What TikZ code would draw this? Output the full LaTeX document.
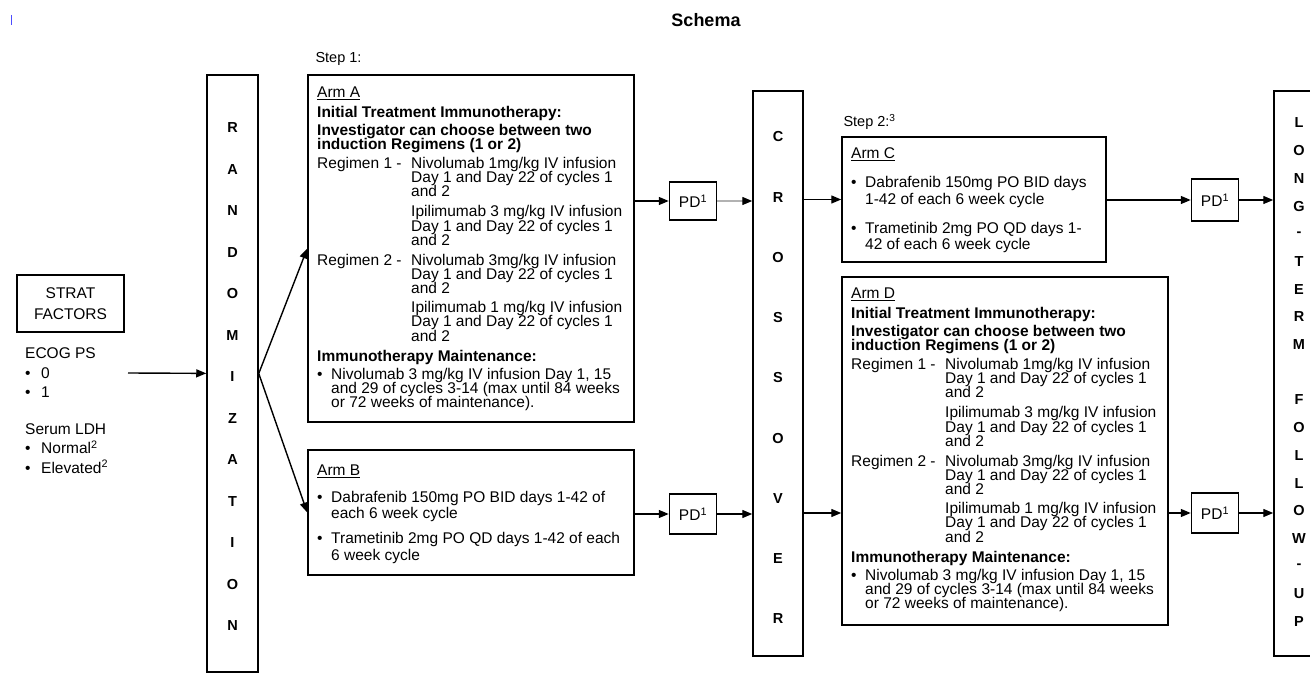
\documentclass[tikz,border=0pt]{standalone}
\usepackage{fontspec}
\setmainfont{Liberation Sans}
\usetikzlibrary{arrows.meta}
\tikzset {>={Triangle[length=10pt,width=8pt]}}

\newcommand{\armfont}{\fontsize{15.5}{14.2}\selectfont\lineskiplimit=-10pt}
\newcommand{\listfont}{\fontsize{15.5}{16.5}\selectfont\lineskiplimit=-10pt}
\newcommand{\dotitem}{\makebox[14pt][l]{\textbullet}}
\newcommand{\hang}{\hspace*{14pt}}
\newcommand{\ind}{\hspace*{94pt}}
\newcommand{\regimen}[1]{\makebox[94pt][l]{Regimen #1 -}}

% same treatment text in Arm A and Arm D
\newcommand{\immunoarm}[1]{%
\underline{Arm #1}\\[5.8pt]
\textbf{Initial Treatment Immunotherapy:}\\[3.8pt]
\textbf{Investigator can choose between two}\\
\textbf{induction Regimens (1 or 2)}\\[4.8pt]
\regimen{1}Nivolumab 1mg/kg IV infusion\\
\ind Day 1 and Day 22 of cycles 1\\
\ind and 2\\[5.8pt]
\ind Ipilimumab 3 mg/kg IV infusion\\
\ind Day 1 and Day 22 of cycles 1\\
\ind and 2\\[5.8pt]
\regimen{2}Nivolumab 3mg/kg IV infusion\\
\ind Day 1 and Day 22 of cycles 1\\
\ind and 2\\[4.8pt]
\ind Ipilimumab 1 mg/kg IV infusion\\
\ind Day 1 and Day 22 of cycles 1\\
\ind and 2\\[5.8pt]
\textbf{Immunotherapy Maintenance:}\\[3.8pt]
\dotitem Nivolumab 3 mg/kg IV infusion Day 1, 15\\
\hang and 29 of cycles 3-14 (max until 84 weeks\\
\hang or 72 weeks of maintenance).}

\begin{document}
\begin{tikzpicture}[x=1pt,y=-1pt,
  box/.style={draw,line width=1.5pt,inner sep=0pt},
  pd/.style={box,minimum width=47pt,font=\fontsize{15.5}{15.5}\selectfont},
  txt/.style={align=left,anchor=north west,inner sep=0pt,font=\armfont},
  letter/.style={font=\bfseries\fontsize{14.5}{14.5}\selectfont},
  link/.style={->,line width=1.4pt}]
\useasboundingbox (0,0) rectangle (1310,700);

\node[font=\bfseries\fontsize{18}{18}\selectfont] (title) at (706,20) {Schema};
\draw[blue!70, line width=1pt] (11,15) -- (11,25);

% stratification
\node[box, minimum width=107pt, minimum height=57pt, align=center,
  font=\fontsize{15.5}{21}\selectfont] (strat) at (70.5,303.5) {STRAT\\FACTORS};
\node[txt, font=\fontsize{15.5}{19.5}\selectfont] (ecog) at (25,347.5)
  {ECOG PS\\ \makebox[16pt][l]{\textbullet}0\\ \makebox[16pt][l]{\textbullet}1\\[17pt]
   Serum LDH\\ \makebox[16pt][l]{\textbullet}Normal\textsuperscript{2}\\
   \makebox[16pt][l]{\textbullet}Elevated\textsuperscript{2}};
\coordinate (ecogout) at (128,373);

% tall boxes
\node[box, minimum width=51pt, minimum height=597pt] (rand) at (232.5,373.5) {};
\foreach \c [count=\k from 0] in {R,A,N,D,O,M,I,Z,A,T,I,O,N}
  \node[letter] (rand\k) at (232.5,128+41.5*\k) {\c};
\node[box, minimum width=50pt, minimum height=565pt] (cross) at (778,373.5) {};
\foreach \c [count=\k from 0] in {C,R,O,S,S,O,V,E,R}
  \node[letter] (cross\k) at (778,137+60.25*\k) {\c};
\node[box, minimum width=50pt, minimum height=565pt] (ltfu) at (1299,373.5) {};
\foreach \c [count=\k from 0] in {L,O,N,G,-,T,E,R,M,{},F,O,L,L,O,W,-,U,P}
  \node[letter] (ltfu\k) at (1299,123+27.7*\k) {\c};

% step 1
\node[anchor=base west, font=\fontsize{14.5}{14.5}\selectfont] (stepone) at (312,63) {Step 1:};
\node[box, minimum width=326pt, minimum height=347pt] (armA) at (471,248.5) {};
\node[txt] (armAtxt) at (317,86.5) {\immunoarm{A}};
\node[box, minimum width=326pt, minimum height=125pt] (armB) at (471,512.5) {};
\node[txt, font=\listfont] (armBtxt) at (317,464.5)
  {\underline{Arm B}\\[10.5pt]
   \dotitem Dabrafenib 150mg PO BID days 1-42 of\\
   \hang each 6 week cycle\\[8.5pt]
   \dotitem Trametinib 2mg PO QD days 1-42 of each\\
   \hang 6 week cycle};
\node[pd, minimum height=38pt] (pdA) at (693,201) {PD\textsuperscript{1}};
\node[pd, minimum height=40pt] (pdB) at (693,514) {PD\textsuperscript{1}};

% step 2
\node[anchor=base west, font=\fontsize{14.5}{14.5}\selectfont] (steptwo) at (840,127) {Step 2:\textsuperscript{3}};
\node[box, minimum width=264pt, minimum height=125pt] (armC) at (974,199.5) {};
\node[txt, font=\listfont] (armCtxt) at (851,147.5)
  {\underline{Arm C}\\[12.5pt]
   \dotitem Dabrafenib 150mg PO BID days\\
   \hang 1-42 of each 6 week cycle\\[12.5pt]
   \dotitem Trametinib 2mg PO QD days 1-\\
   \hang 42 of each 6 week cycle};
\node[box, minimum width=326pt, minimum height=348pt] (armD) at (1005,451) {};
\node[txt] (armDtxt) at (851,287.5) {\immunoarm{D}};
\node[pd, minimum height=42pt] (pdC) at (1215,200) {PD\textsuperscript{1}};
\node[pd, minimum height=40pt] (pdD) at (1215,513) {PD\textsuperscript{1}};

% connectors
\draw[link] (ecogout) -- (rand);
\draw[link] (rand.east) -- (armA.west);
\draw[link] (rand.east) -- (armB.west);
\draw[link] (armA.east |- pdA) -- (pdA);
\draw[link, gray!60, -{Triangle[length=10pt,width=8pt,color=black]}] (pdA) -- (cross.west |- pdA);
\draw[link] (armB.east |- pdB) -- (pdB);
\draw[link] (pdB) -- (cross.west |- pdB);
\draw[link] (cross.east |- armC.west) -- (armC.west);
\draw[link] (cross.east |- pdD) -- (armD.west |- pdD);
\draw[link] (armC.east |- pdC) -- (pdC);
\draw[link] (pdC) -- (ltfu.west |- pdC);
\draw[link] (armD.east |- pdD) -- (pdD);
\draw[link] (pdD) -- (ltfu.west |- pdD);
\end{tikzpicture}
\end{document}
